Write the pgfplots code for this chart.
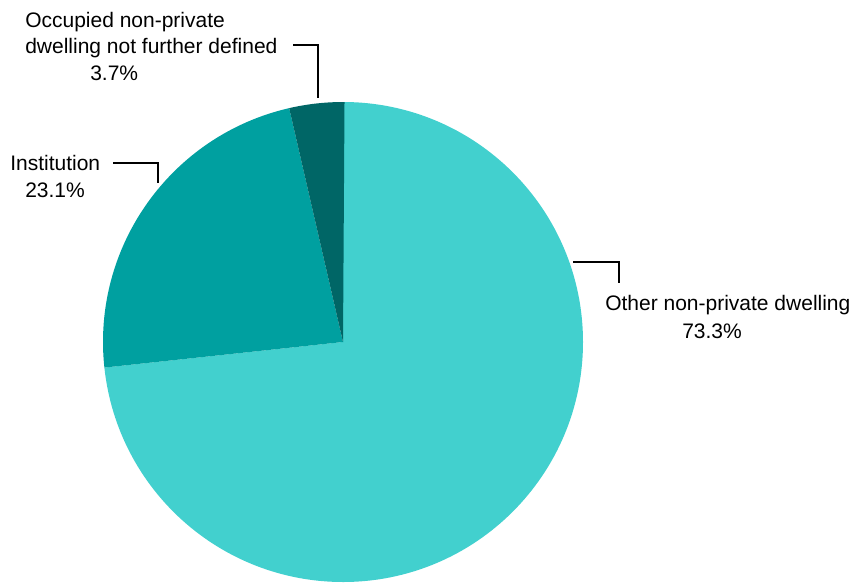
\documentclass[border=0pt]{standalone}
\usepackage{pgfplots}
\usepackage{pgfplotstable}
\pgfplotsset{compat=1.18}
\usepackage{fontspec}
\setmainfont{Liberation Sans}
\definecolor{cOther}{RGB}{66,208,206}
\definecolor{cInst}{RGB}{0,160,160}
\definecolor{cOcc}{RGB}{0,102,102}
\pgfplotstableread{
label value
Other 73.3
Institution 23.1
Occupied 3.7
}\piedata
\begin{document}
\fontsize{15.75pt}{19.9pt}\selectfont
\begin{tikzpicture}
\pgfplotstablegetelem{0}{value}\of\piedata \pgfmathsetmacro\vA{\pgfplotsretval}
\pgfplotstablegetelem{1}{value}\of\piedata \pgfmathsetmacro\vB{\pgfplotsretval}
\pgfplotstablegetelem{2}{value}\of\piedata \pgfmathsetmacro\vC{\pgfplotsretval}
\pgfmathsetmacro\aA{90}
\pgfmathsetmacro\aB{\aA-3.6*\vA}
\pgfmathsetmacro\aC{\aB-3.6*\vB}
\pgfmathsetmacro\aD{\aC-3.6*\vC}
\begin{axis}[
  width=638.25pt, height=437.25pt, scale only axis,
  xmin=0, xmax=851, ymin=0, ymax=583, y dir=reverse,
  hide axis, clip=false]
\path (axis cs:0,0) rectangle (axis cs:851,583);
% slices (centre 343,342 px; radius 240 px = 180pt)
\fill[cOther] (axis cs:343,342) -- (axis cs:{343+240*cos(\aA)},{342-240*sin(\aA)}) arc[start angle=\aA, end angle=\aB, radius=180pt] -- cycle;
\fill[cInst] (axis cs:343,342) -- (axis cs:{343+240*cos(\aB)},{342-240*sin(\aB)}) arc[start angle=\aB, end angle=\aC, radius=180pt] -- cycle;
\fill[cOcc] (axis cs:343,342) -- (axis cs:{343+240*cos(\aC)},{342-240*sin(\aC)}) arc[start angle=\aC, end angle=\aD, radius=180pt] -- cycle;
% leader lines
\draw[black, line width=1.1pt] (axis cs:293,45) -- (axis cs:318,45) -- (axis cs:318,98);
\draw[black, line width=1.1pt] (axis cs:113,163) -- (axis cs:158,163) -- (axis cs:158,183);
\draw[black, line width=1.1pt] (axis cs:573,262) -- (axis cs:619,262) -- (axis cs:619,283);
% labels
\node[anchor=base west, inner sep=0pt] at (axis cs:25,27) {Occupied non-private};
\node[anchor=base west, inner sep=0pt] at (axis cs:25,53) {dwelling not further defined};
\node[anchor=base west, inner sep=0pt] at (axis cs:90,80) {3.7\%};
\node[anchor=base west, inner sep=0pt] at (axis cs:10,170) {Institution};
\node[anchor=base west, inner sep=0pt] at (axis cs:25,197) {23.1\%};
\node[anchor=base west, inner sep=0pt] at (axis cs:605,310) {Other non-private dwelling};
\node[anchor=base west, inner sep=0pt] at (axis cs:682,338) {73.3\%};
\end{axis}
\end{tikzpicture}
\end{document}
